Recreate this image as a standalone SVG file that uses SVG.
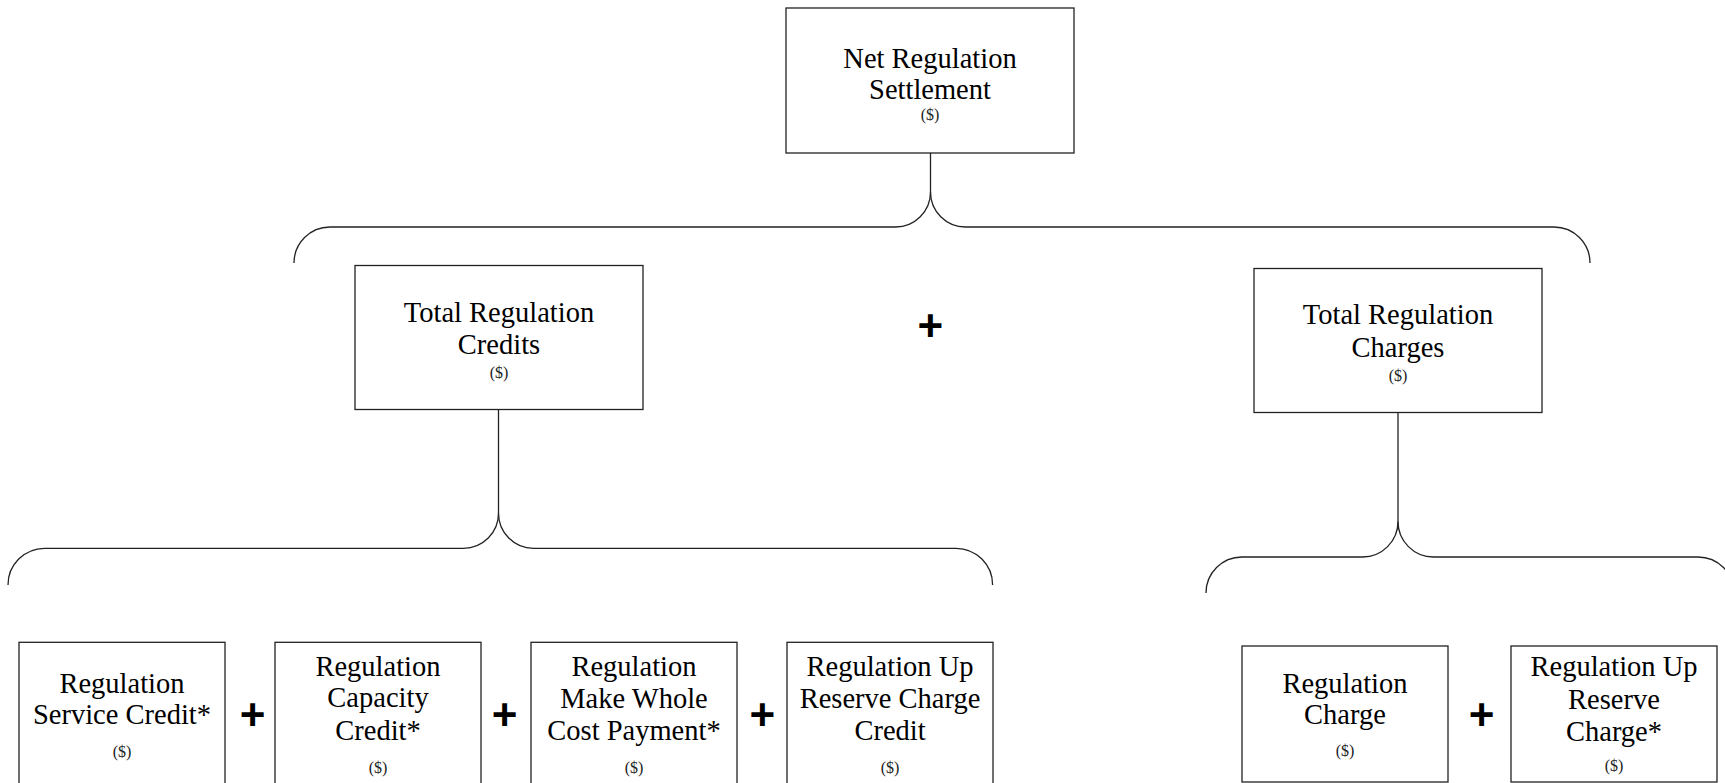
<svg xmlns="http://www.w3.org/2000/svg" width="1725" height="783" viewBox="0 0 1725 783">
<style>
.box{fill:#fff;stroke:#222;stroke-width:1.3}
.t{font-family:"Liberation Serif","Times New Roman",serif;font-size:28.5px;fill:#000;text-anchor:middle}
.d{font-family:"Liberation Serif","Times New Roman",serif;font-size:16px;fill:#222;text-anchor:middle}
.p{font-family:"Liberation Sans",Arial,sans-serif;font-size:44px;font-weight:bold;fill:#000;text-anchor:middle}
.c{fill:none;stroke:#222;stroke-width:1.3}
</style>
<rect width="1725" height="783" fill="#fff"/>
<g id="connectors">
<path class="c" d="M930.5,153 V192 A35,35 0 0 1 895.5,227 H330 A36,36 0 0 0 294,263"/>
<path class="c" d="M930.5,192 A35,35 0 0 0 965.5,227 H1554 A36,36 0 0 1 1590,263"/>
<path class="c" d="M498.5,409.5 V513.3 A35,35 0 0 1 463.5,548.3 H44.6 A36.6,36.6 0 0 0 8,585"/>
<path class="c" d="M498.5,513.3 A35,35 0 0 0 533.5,548.3 H956 A36.6,36.6 0 0 1 992.6,585"/>
<path class="c" d="M1398,412.5 V521.5 A35.5,35.5 0 0 1 1362.5,557 H1242 A36,36 0 0 0 1206,593"/>
<path class="c" d="M1398,521.5 A35.5,35.5 0 0 0 1433.5,557 H1698 A36,36 0 0 1 1734,593"/>
</g>
<g id="net-regulation-settlement">
<rect class="box" x="786" y="8" width="288" height="145"/>
<text class="t" x="930" y="67.5">Net Regulation</text>
<text class="t" x="930" y="99.2">Settlement</text>
<text class="d" x="930" y="120">($)</text>
</g>
<g id="total-regulation-credits">
<rect class="box" x="355" y="265.5" width="288" height="144"/>
<text class="t" x="499" y="321.8">Total Regulation</text>
<text class="t" x="499" y="354.2">Credits</text>
<text class="d" x="499" y="377.5">($)</text>
</g>
<g id="plus-top"><text class="p" x="930.3" y="341">+</text></g>
<g id="total-regulation-charges">
<rect class="box" x="1254" y="268.5" width="288" height="144"/>
<text class="t" x="1398" y="324.2">Total Regulation</text>
<text class="t" x="1398" y="356.5">Charges</text>
<text class="d" x="1398" y="380.8">($)</text>
</g>
<g id="regulation-service-credit">
<rect class="box" x="19" y="642.3" width="206" height="146"/>
<text class="t" x="122" y="692.5">Regulation</text>
<text class="t" x="122" y="724.2">Service Credit*</text>
<text class="d" x="122" y="756.5">($)</text>
</g>
<g id="plus-1"><text class="p" x="252.5" y="730">+</text></g>
<g id="regulation-capacity-credit">
<rect class="box" x="275" y="642.3" width="206" height="146"/>
<text class="t" x="378" y="675.8">Regulation</text>
<text class="t" x="378" y="707">Capacity</text>
<text class="t" x="378" y="739.8">Credit*</text>
<text class="d" x="378" y="772.5">($)</text>
</g>
<g id="plus-2"><text class="p" x="504.5" y="730">+</text></g>
<g id="regulation-make-whole">
<rect class="box" x="531" y="642.3" width="206" height="146"/>
<text class="t" x="634" y="675.8">Regulation</text>
<text class="t" x="634" y="707.5">Make Whole</text>
<text class="t" x="634" y="739.8">Cost Payment*</text>
<text class="d" x="634" y="772.5">($)</text>
</g>
<g id="plus-3"><text class="p" x="762.3" y="730">+</text></g>
<g id="regulation-up-reserve-charge-credit">
<rect class="box" x="787" y="642.3" width="206" height="146"/>
<text class="t" x="890" y="675.8">Regulation Up</text>
<text class="t" x="890" y="707.5">Reserve Charge</text>
<text class="t" x="890" y="739.8">Credit</text>
<text class="d" x="890" y="772.5">($)</text>
</g>
<g id="regulation-charge">
<rect class="box" x="1242" y="646" width="206" height="136"/>
<text class="t" x="1345" y="692.5">Regulation</text>
<text class="t" x="1345" y="724.2">Charge</text>
<text class="d" x="1345" y="756">($)</text>
</g>
<g id="plus-4"><text class="p" x="1481.7" y="730">+</text></g>
<g id="regulation-up-reserve-charge">
<rect class="box" x="1511" y="646" width="206" height="136"/>
<text class="t" x="1614" y="675.8">Regulation Up</text>
<text class="t" x="1614" y="708.5">Reserve</text>
<text class="t" x="1614" y="740.5">Charge*</text>
<text class="d" x="1614" y="770.5">($)</text>
</g>
</svg>
